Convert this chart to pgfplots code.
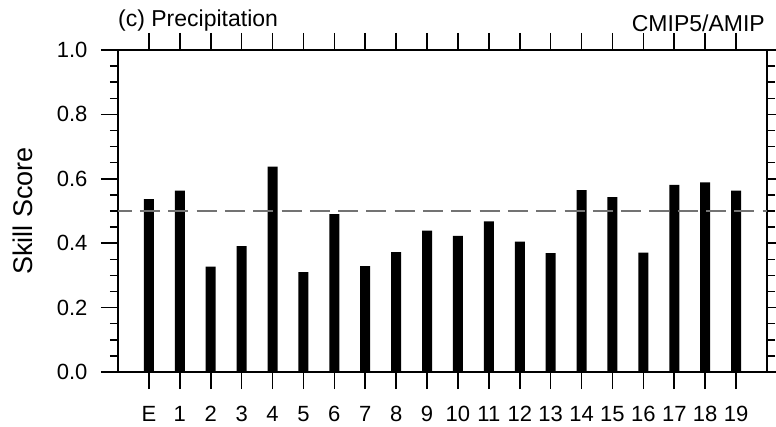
\documentclass[border=0pt]{standalone}
\usepackage{pgfplots}
\pgfplotsset{compat=1.18}
\usepackage{fontspec}
\setmainfont{Liberation Sans}
\usetikzlibrary{calc}
\begin{document}
\begin{tikzpicture}
\begin{axis}[
  scale only axis,
  width=649pt, height=322pt,
  xmin=-1, xmax=20,
  ymin=0, ymax=1,
  xtick={0,...,19},
  xticklabels={E,1,2,3,4,5,6,7,8,9,10,11,12,13,14,15,16,17,18,19},
  ytick={0,0.2,0.4,0.6,0.8,1.0},
  minor y tick num=3,
  tick align=outside,
  major tick length=17pt,
  minor tick length=8pt,
  xtick pos=both,
  ytick pos=both,
  xticklabel pos=bottom,
  yticklabel pos=left,
  axis line style={line width=1.6pt},
  every tick/.style={black, line width=1.6pt},
  every minor tick/.style={black, line width=1.4pt},
  /pgf/number format/assume math mode=true,
  yticklabel style={/pgf/number format/fixed, /pgf/number format/fixed zerofill, /pgf/number format/precision=1, font=\fontsize{22}{26}\selectfont, xshift=-10pt},
  xticklabel style={font=\fontsize{22}{26}\selectfont, yshift=-14pt},
  ylabel={Skill Score},
  every axis y label/.style={at={(rel axis cs:0,0.5)}, rotate=90, anchor=center, yshift=95pt, font=\fontsize{27}{31}\selectfont},
  clip=false,
]
\addplot[ybar, bar width=10pt, fill=black, draw=none] coordinates {
(0,0.537) (1,0.563) (2,0.327) (3,0.391) (4,0.638) (5,0.310) (6,0.490) (7,0.329)
(8,0.372) (9,0.439) (10,0.423) (11,0.468) (12,0.405) (13,0.369) (14,0.565)
(15,0.543) (16,0.371) (17,0.581) (18,0.589) (19,0.563)
};
\addplot[color=black!55, line width=1.8pt, dash pattern=on 20pt off 8.3pt, dash phase=6.3pt] coordinates {(-1,0.5) (20,0.5)};
\node[anchor=base west, font=\fontsize{23}{27}\selectfont, inner sep=0pt] at (rel axis cs:0,1) [yshift=23pt] {(c) Precipitation};
\node[anchor=base east, font=\fontsize{23}{27}\selectfont, inner sep=0pt] at (rel axis cs:1,1) [yshift=18pt, xshift=-2pt] {CMIP5/AMIP};
\coordinate (bl) at (rel axis cs:0,0);
\coordinate (tr) at (rel axis cs:1,1);
\end{axis}
\pgfresetboundingbox
\path[use as bounding box] ($(bl)+(-118pt,-54pt)$) rectangle ($(tr)+(9pt,50pt)$);
\end{tikzpicture}
\end{document}
